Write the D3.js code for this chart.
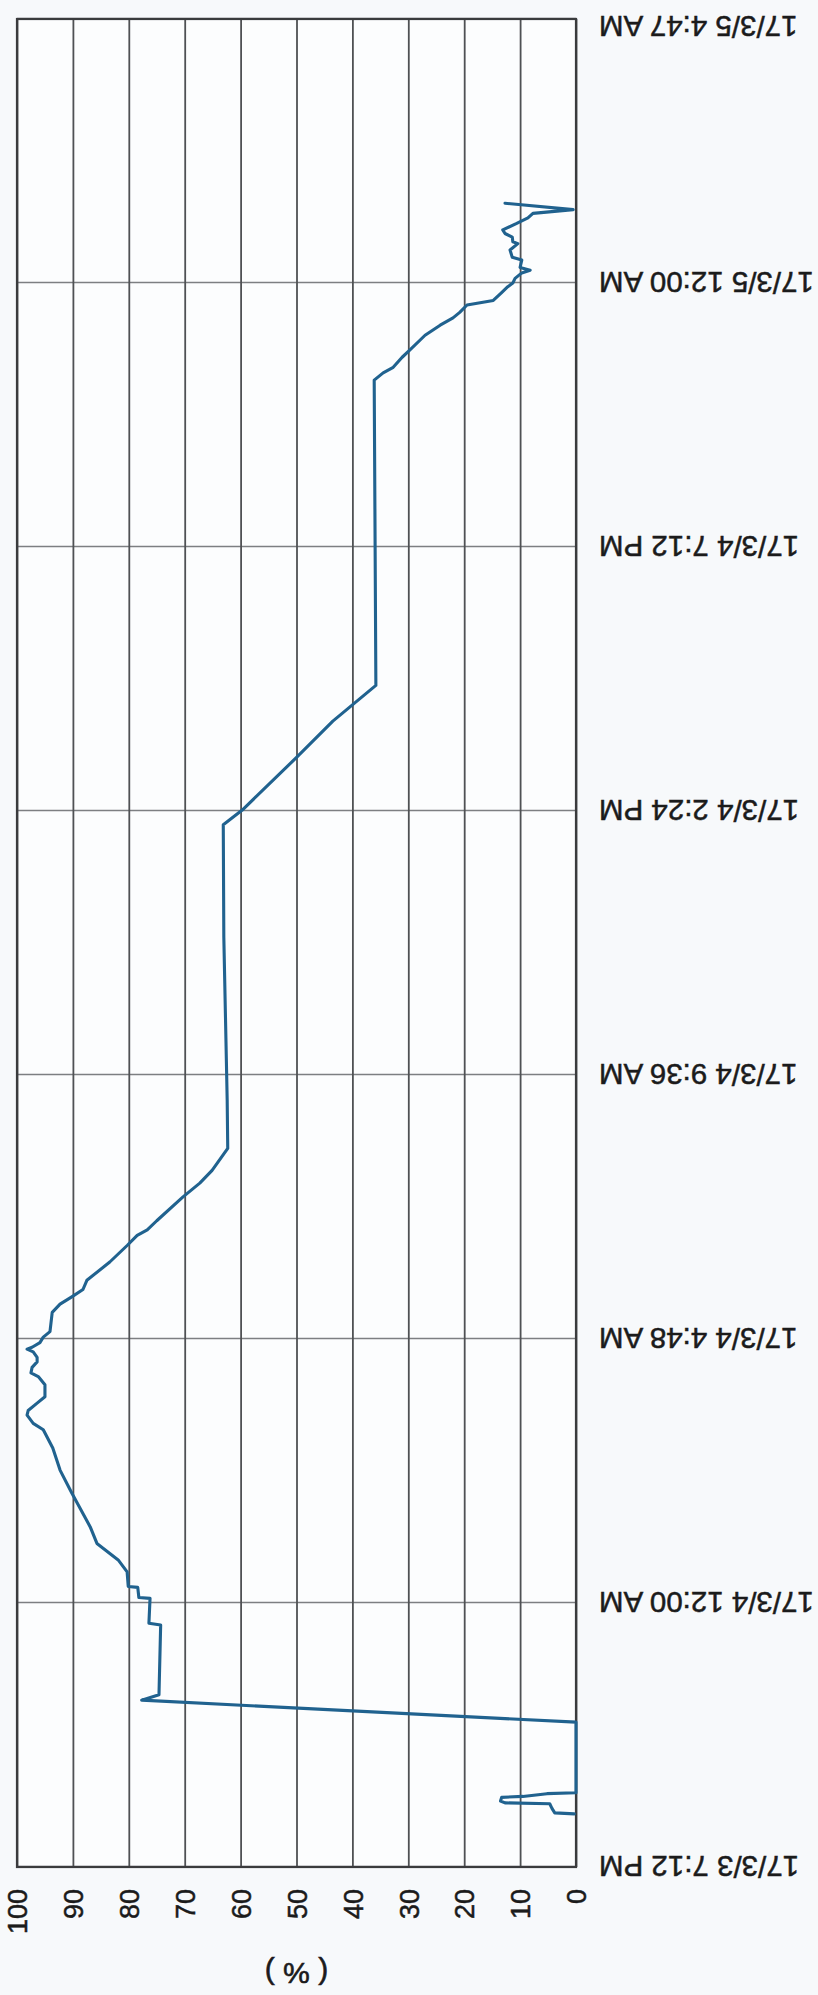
<!DOCTYPE html>
<html>
<head>
<meta charset="utf-8">
<script src="https://cdn.jsdelivr.net/npm/d3@7/dist/d3.min.js"></script>
<style>
  html, body { margin: 0; padding: 0; background: #f7f9fb; }
  svg { display: block; }
</style>
</head>
<body>
<svg id="chart" width="818" height="1995"></svg>
<script>
// ---- data (time / percent) ----
const timeStamps = [
  "2017-03-03 20:10","2017-03-03 20:11","2017-03-03 20:16","2017-03-03 20:21","2017-03-03 20:22",
  "2017-03-03 20:24","2017-03-03 20:28","2017-03-03 20:29","2017-03-03 20:32","2017-03-03 20:33",
  "2017-03-03 21:50","2017-03-03 22:14","2017-03-03 22:20","2017-03-03 23:36","2017-03-03 23:38",
  "2017-03-04 00:05","2017-03-04 00:06","2017-03-04 00:17","2017-03-04 00:18","2017-03-04 00:34",
  "2017-03-04 00:47","2017-03-04 01:05","2017-03-04 01:23","2017-03-04 02:00","2017-03-04 02:25",
  "2017-03-04 02:49","2017-03-04 03:09","2017-03-04 03:16","2017-03-04 03:25","2017-03-04 03:30",
  "2017-03-04 03:38","2017-03-04 03:45","2017-03-04 03:58","2017-03-04 04:07","2017-03-04 04:11",
  "2017-03-04 04:17","2017-03-04 04:23","2017-03-04 04:28","2017-03-04 04:34","2017-03-04 04:37",
  "2017-03-04 04:39","2017-03-04 04:44","2017-03-04 04:50","2017-03-04 04:56","2017-03-04 05:17",
  "2017-03-04 05:26","2017-03-04 05:34","2017-03-04 05:42","2017-03-04 05:52","2017-03-04 06:12",
  "2017-03-04 06:30","2017-03-04 06:41","2017-03-04 06:47","2017-03-04 06:57","2017-03-04 07:23",
  "2017-03-04 07:38","2017-03-04 07:52","2017-03-04 08:16","2017-03-04 09:09","2017-03-04 12:06",
  "2017-03-04 14:09","2017-03-04 14:25","2017-03-04 15:23","2017-03-04 16:02","2017-03-04 16:41",
  "2017-03-04 22:14","2017-03-04 22:22","2017-03-04 22:28","2017-03-04 22:39","2017-03-04 22:47",
  "2017-03-04 23:03","2017-03-04 23:14","2017-03-04 23:22","2017-03-04 23:28","2017-03-04 23:36",
  "2017-03-04 23:41","2017-03-04 23:49","2017-03-04 23:56","2017-03-05 00:00","2017-03-05 00:05",
  "2017-03-05 00:11","2017-03-05 00:14","2017-03-05 00:17","2017-03-05 00:25","2017-03-05 00:28",
  "2017-03-05 00:36","2017-03-05 00:43","2017-03-05 00:45","2017-03-05 00:50","2017-03-05 00:54",
  "2017-03-05 00:58","2017-03-05 01:05","2017-03-05 01:11","2017-03-05 01:16","2017-03-05 01:20",
  "2017-03-05 01:27"
];
const percentValues = [
  0.3, 3.8, 4.3, 4.7, 12.7,
  13.5, 13.3, 9.5, 5.2, 0,
  0, 77.7, 74.6, 74.3, 76.4,
  76.2, 78.2, 78.4, 80.1, 80.3,
  81.9, 85.7, 86.9, 90.2, 92.3,
  93.6, 95.3, 97.1, 98.2, 98.0,
  96.4, 95.0, 95.0, 96.2, 97.5,
  97.3, 96.4, 96.4, 97.1, 98.2,
  97.3, 95.9, 95.3, 94.1, 93.7,
  92.3, 90.2, 88.2, 87.5, 83.4,
  80.3, 78.5, 76.7, 75.0, 70.3,
  67.3, 65.1, 62.3, 62.4, 63.0,
  63.1, 59.7, 49.9, 43.5, 35.8,
  36.1, 34.5, 32.7, 31.1, 29.7,
  27.0, 24.3, 22.0, 20.8, 19.5,
  14.8, 13.4, 12.2, 11.3, 10.9,
  9.7, 8.2, 10.0, 9.7, 11.4,
  11.8, 10.4, 11.3, 11.4, 12.7,
  13.1, 10.6, 8.6, 7.7, 0.5,
  12.7
];
const valueTicks = [0, 10, 20, 30, 40, 50, 60, 70, 80, 90, 100];
const timeTicks = [
  "2017-03-03 19:12","2017-03-04 00:00","2017-03-04 04:48","2017-03-04 09:36",
  "2017-03-04 14:24","2017-03-04 19:12","2017-03-05 00:00","2017-03-05 04:48"
];
const timeTickLabels = [
  "17/3/3 7:12 PM","17/3/4 12:00 AM","17/3/4 4:48 AM","17/3/4 9:36 AM",
  "17/3/4 2:24 PM","17/3/4 7:12 PM","17/3/5 12:00 AM","17/3/5 4:47 AM"
];
const axisTitle = "( % )";

// ---- layout ----
const parse = d3.timeParse("%Y-%m-%d %H:%M");
const series = timeStamps.map((t, i) => ({ t: parse(t), v: percentValues[i] }));
const tickDates = timeTicks.map(parse);

// chart is drawn in its natural orientation, then the whole thing is turned a quarter turn
const originX = 17, originY = 1867;   // lower-left corner of the plot on the page
const W = 1848;  // time extent
const H = 559;   // percent extent

const svg = d3.select("#chart");
const g = svg.append("g")
  .attr("transform", `translate(${originX},${originY}) rotate(-90)`);

const x = d3.scaleTime().domain([tickDates[0], tickDates[tickDates.length - 1]]).range([0, W]);
const y = d3.scaleLinear().domain([0, 100]).range([H, 0]);

const fontFam = "'Liberation Sans', Arial, sans-serif";
const textCol = "#1b1b1b";

// plot background
g.append("rect").attr("x", 0).attr("y", 0).attr("width", W).attr("height", H)
  .attr("fill", "#fcfdfe");

// time axis (grid + labels)
const xAxis = g.append("g")
  .attr("transform", `translate(0,${H})`)
  .call(d3.axisBottom(x).tickValues(tickDates)
        .tickFormat((d, i) => timeTickLabels[i]).tickSize(-H).tickSizeOuter(0));
xAxis.select(".domain").remove();
xAxis.selectAll(".tick line").attr("stroke", "#7d7f82").attr("stroke-width", 1.6);
xAxis.selectAll(".tick text")
  .attr("transform", "rotate(-90)")
  .attr("text-anchor", "end")
  .attr("x", -23).attr("y", 0)
  .attr("dy", (d, i) => i === tickDates.length - 1 ? "0.1em" : "0.36em")
  .attr("font-family", fontFam).attr("font-size", 29.5).attr("fill", textCol)
  .attr("stroke", textCol).attr("stroke-width", 0.5);

// value axis (grid + labels)
const yAxis = g.append("g")
  .call(d3.axisLeft(y).tickValues(valueTicks).tickFormat(d3.format("d"))
        .tickSize(-W).tickSizeOuter(0).tickPadding(22));
yAxis.select(".domain").remove();
yAxis.selectAll(".tick line").attr("stroke", "#4f5154").attr("stroke-width", 1.8);
yAxis.selectAll(".tick text")
  .attr("font-family", fontFam).attr("font-size", 27).attr("fill", textCol)
  .attr("stroke", textCol).attr("stroke-width", 0.5)
  .attr("dy", "0.36em");

// border
g.append("rect").attr("x", 0).attr("y", 0).attr("width", W).attr("height", H)
  .attr("fill", "none").attr("stroke", "#3a3b3d").attr("stroke-width", 2.2);

// data line
const line = d3.line().x(d => x(d.t)).y(d => y(d.v));
g.append("path").datum(series)
  .attr("d", line)
  .attr("fill", "none")
  .attr("stroke", "#20628f")
  .attr("stroke-width", 3.1)
  .attr("stroke-linejoin", "round")
  .attr("stroke-linecap", "round");

// axis title
g.append("text")
  .attr("transform", `translate(-107,${H / 2}) rotate(-90)`)
  .attr("text-anchor", "middle")
  .attr("dy", "0.36em")
  .attr("font-family", fontFam)
  .attr("font-size", 30)
  .attr("fill", textCol)
  .attr("stroke", textCol).attr("stroke-width", 0.6)
  .text(axisTitle);
</script>
</body>
</html>
